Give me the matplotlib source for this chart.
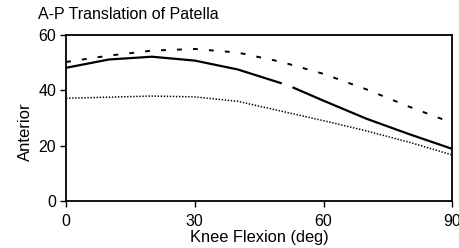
import numpy as np
import matplotlib
matplotlib.use("Agg")
import matplotlib.pyplot as plt

plt.rcParams["font.family"] = ["Liberation Sans", "DejaVu Sans"]
plt.rcParams["lines.scale_dashes"] = False

# Knee flexion angles (deg)
flex = [0, 10, 20, 30, 40, 50, 60, 70, 80, 90]

# dashed curve
dashed = [50.2, 52.5, 54.3, 54.9, 53.6, 50.3, 45.9, 40.3, 34.0, 28.2]

# solid curve (small break near 51 deg as in the original)
solid_deg = [0, 10, 20, 30, 40, 50, 51.5, 53, 60, 70, 80, 90]
solid = [48.1, 51.1, 52.1, 50.7, 47.5, 42.6, np.nan, 40.9, 36.2, 29.7, 24.1, 18.8]

# dotted curve
dotted = [37.1, 37.5, 37.9, 37.6, 36.0, 32.5, 29.0, 25.3, 21.2, 16.6]

fig = plt.figure(figsize=(4.6, 2.48), dpi=100)
ax = fig.add_axes([0.1435, 0.1895, 0.84, 0.67])

ax.plot(flex, dashed, color="black", lw=1.4, linestyle=(0, (3.5, 8)))
ax.plot(solid_deg, solid, color="black", lw=1.6)
ax.plot(flex, dotted, color="black", lw=1.1, linestyle=(0, (1, 1.2)))

ax.set_xlim(0, 90)
ax.set_ylim(0, 60)
ax.set_xticks([0, 30, 60, 90])
ax.set_yticks([0, 20, 40, 60])
ax.tick_params(labelsize=11.5, length=4, width=1, pad=3)
ax.tick_params(axis="x", pad=5)
for s in ax.spines.values():
    s.set_linewidth(1.3)

ax.set_xlabel("Knee Flexion (deg)", fontsize=11.8, labelpad=1)
ax.set_ylabel("Anterior", fontsize=12)
ax.yaxis.set_label_coords(-0.085, 0.42)
fig.text(0.083, 0.925, "A-P Translation of Patella", fontsize=11.5)

fig.savefig("out.png", dpi=100)
